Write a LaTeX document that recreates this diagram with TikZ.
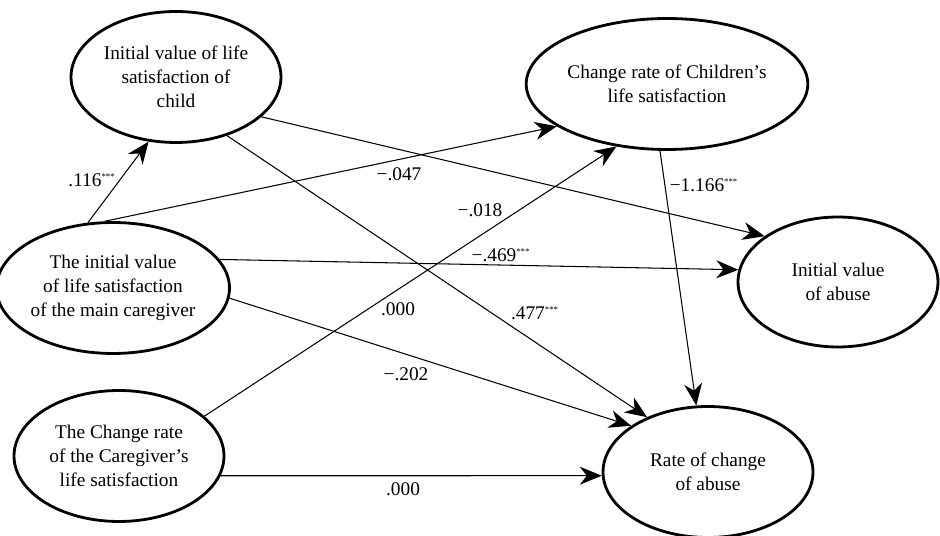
\documentclass[tikz,border=0pt]{standalone}
\usepackage{fontspec}
\setmainfont{Liberation Serif}
\usetikzlibrary{shapes.geometric,arrows.meta}
\newcommand{\sigstar}{\textsuperscript{\tiny ***}}

\begin{document}
\begin{tikzpicture}[x=0.02cm, y=-0.02cm,
        latent/.style={shape=ellipse, draw=black, line width=1.6pt, minimum width=4.2cm, minimum height=2.62cm, inner sep=0pt, align=center, font=\fontsize{11}{13.8}\selectfont},
        effect/.style={line width=0.6pt, -{Stealth[length=4.4mm, width=3.6mm, inset=1.4mm]}},
        coef/.style={font=\fontsize{11}{12}\selectfont, inner sep=1pt}]
        \useasboundingbox (0,0) rectangle (940,536);

        \node[latent] (CI) at (176, 77) {Initial value of life\\ satisfaction of\\ child};
        \node[latent] (CC) at (667, 84) {Change rate of Children’s\\ life satisfaction};
        \node[latent] (MI) at (113, 288) {The initial value\\ of life satisfaction\\ of the main caregiver};
        \node[latent] (GC) at (119, 456) {The Change rate\\ of the Caregiver’s\\ life satisfaction};
        \node[latent, minimum width=4cm, minimum height=2.6cm] (IA) at (838, 282) {Initial value\\ of abuse};
        \node[latent] (RA) at (708, 472) {Rate of change\\ of abuse};

        \path [effect] (MI.111) edge (CI.247);
        \path [effect] (MI.97) edge (CC.201);

        \path [effect] (CI.335) edge (IA.148);
        \path [effect] (CI.311) edge (RA.138);

        \path [effect] (MI.15) edge (IA.173);
        \path [effect] (MI.355) edge (RA.149);

        \path [effect] (GC.25) edge (CC.231);
        \path [effect] (GC.349) edge (RA.182);

        \path [effect] (CC.264) edge (RA.100);

        \node[coef] (b116) at (92, 180) {.116\sigstar};
        \node[coef] (b047) at (399, 174) {−.047};
        \node[coef] (b018) at (480, 210) {−.018};
        \node[coef] (b1166) at (704, 185) {−1.166\sigstar};
        \node[coef] (b469) at (501, 255) {−.469\sigstar};
        \node[coef] (b000a) at (398, 309) {.000};
        \node[coef] (b477) at (535, 313) {.477\sigstar};
        \node[coef] (b202) at (406, 374) {−.202};
        \node[coef] (b000b) at (403, 489) {.000};
    \end{tikzpicture}
\end{document}
